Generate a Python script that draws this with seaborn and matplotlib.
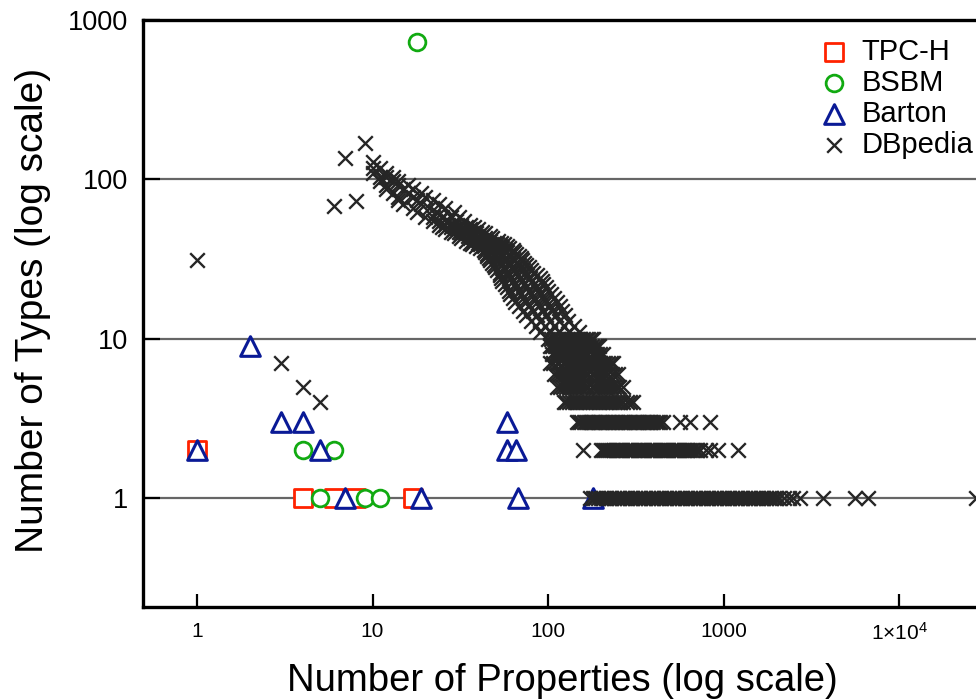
import matplotlib
matplotlib.use("Agg")
import matplotlib.pyplot as plt
from matplotlib.ticker import NullLocator
import pandas as pd
import seaborn as sns

# ---- data: number of types having a given number of properties ----
tpch_x = [1, 4, 6, 8, 17]
tpch_y = [2, 1, 1, 1, 1]

bsbm_x = [18, 4, 6, 5, 9, 11]
bsbm_y = [730, 2, 2, 1, 1, 1]

barton_x = [1, 2, 3, 4, 5, 7, 19, 58, 58, 66, 67, 180]
barton_y = [2, 9, 3, 3, 2, 1, 1, 3, 2, 2, 1, 1]

# DBpedia: isolated types with few properties
dbp_sparse_x = [1, 3, 4, 5, 6, 7, 8, 9, 10]
dbp_sparse_y = [31, 7, 5, 4, 68, 136, 73, 170, 128]

# DBpedia: main curve, type counts above 10 and the property counts seen for each
dbp_curve_types = [118, 110, 103, 97, 92, 87, 82, 78, 74, 70, 66, 62,
                   58, 55, 52, 50, 49, 47, 46, 44, 43, 41, 40, 39, 38, 37,
                   36, 35, 34, 33, 32, 31, 30, 29, 28, 27, 26, 25, 24, 23,
                   22, 21, 20, 19, 18, 17, 16, 15, 14, 13, 12, 11]
dbp_curve_props = [
    [10, 11], [10, 12], [11, 12, 13], [11, 13, 14], [12, 14, 16],
    [12, 15, 17], [13, 16, 19], [14, 17, 20], [14, 18, 22], [15, 19, 24],
    [17, 21, 26], [18, 23, 29],
    [20, 22, 25, 28, 31], [22, 24, 27, 30, 33], [24, 26, 29, 32, 36],
    [25, 28, 31, 34, 38],
    [26, 29, 32, 36, 40], [28, 31, 34, 38, 42], [29, 32, 35, 39, 44],
    [31, 35, 38, 42, 47], [32, 36, 40, 44, 48], [34, 38, 42, 47, 52],
    [36, 40, 44, 49, 54], [37, 41, 46, 51, 56], [39, 43, 48, 53, 58],
    [41, 45, 50, 55, 60], [43, 47, 52, 57, 63], [44, 48, 53, 58, 64],
    [45, 49, 54, 60, 66], [45, 50, 55, 61, 68], [46, 51, 57, 63, 70],
    [47, 52, 58, 64, 71], [48, 53, 59, 66, 73], [49, 54, 60, 68, 75],
    [50, 56, 62, 70, 78], [51, 57, 64, 72, 80], [53, 59, 66, 74, 82],
    [53, 60, 67, 76, 86], [54, 61, 69, 79, 90], [55, 63, 71, 81, 92],
    [57, 65, 73, 83, 94], [58, 66, 75, 85, 97], [60, 68, 78, 88, 100],
    [61, 70, 80, 91, 104], [63, 72, 83, 95, 108], [65, 75, 86, 98, 113],
    [68, 78, 89, 102, 117], [72, 82, 93, 106, 120], [75, 86, 98, 111, 125],
    [80, 90, 102, 115, 130], [85, 96, 108, 123, 140], [90, 102, 115, 131, 150],
]

# DBpedia: low type counts (1..10), property counts per row
dbp_band_types = [10, 9, 8, 7, 6, 5, 4, 3, 2, 1]
dbp_band_props = [
    [100, 104, 108, 112, 116, 121, 125, 130, 135, 141, 146, 152, 158, 164,
     170, 175, 180],
    [102, 106, 110, 114, 118, 123, 127, 132, 137, 143, 148, 154, 160, 166,
     172, 179, 185, 190, 195],
    [105, 109, 113, 117, 122, 126, 131, 136, 141, 147, 152, 158, 164, 170,
     177, 184, 190, 197, 205],
    [103, 107, 112, 116, 121, 125, 130, 135, 140, 146, 151, 157, 163, 170,
     176, 183, 190, 197, 205, 212, 220, 228, 235],
    [108, 112, 117, 121, 126, 131, 136, 141, 147, 152, 158, 164, 170, 177,
     183, 190, 197, 205, 212, 221, 230, 240, 250],
    [113, 117, 122, 126, 131, 136, 141, 147, 152, 158, 164, 170, 177, 183,
     190, 197, 205, 212, 220, 229, 238, 246, 255, 267],
    [123, 127, 132, 137, 142, 147, 153, 159, 165, 171, 178, 185, 192, 199,
     207, 215, 223, 231, 240, 249, 258, 269, 280, 292, 305],
    [146, 150, 155, 160, 165, 170, 175, 180, 186, 192, 198, 204, 210, 216,
     223, 230, 237, 244, 252, 260, 268, 276, 285, 294, 303, 312, 322, 332,
     342, 353, 364, 375, 387, 399, 411, 423, 435, 450, 565, 646, 838],
    [158, 200, 205, 211, 217, 223, 229, 236, 243, 250, 257, 265, 273, 281,
     289, 297, 306, 315, 324, 334, 343, 353, 364, 374, 385, 396, 408, 420,
     432, 445, 458, 471, 485, 499, 513, 528, 544, 560, 576, 593, 610, 628,
     646, 665, 685, 705, 730, 790, 840, 930, 1210],
    [174, 180, 186, 193, 200, 207, 214, 222, 229, 237, 246, 254, 263, 272,
     282, 292, 302, 313, 324, 335, 347, 359, 371, 384, 398, 412, 426, 441,
     456, 472, 489, 506, 524, 542, 561, 581, 601, 622, 644, 666, 690, 714,
     739, 765, 791, 819, 848, 877, 908, 940, 973, 1007, 1042, 1078, 1116,
     1155, 1196, 1237, 1281, 1325, 1372, 1420, 1470, 1521, 1574, 1629,
     1686, 1745, 1806, 1870, 1935, 2003, 2073, 2200, 2350, 2500, 2730,
     3700, 5600, 6700, 27500],
]

x_ticks = [1, 10, 100, 1000, 10000]
x_tick_labels = ["1", "10", "100", "1000", r"$\mathregular{1{\times}10^{4}}$"]
y_ticks = [1, 10, 100, 1000]
y_tick_labels = ["1", "10", "100", "1000"]

# ---- tables ----
rows = list(zip(dbp_sparse_x, dbp_sparse_y))
for t, props in zip(dbp_curve_types, dbp_curve_props):
    rows += [(p, t) for p in props]
for t, props in zip(dbp_band_types, dbp_band_props):
    rows += [(p, t) for p in props]
dbpedia = pd.DataFrame(rows, columns=["properties", "types"])
tpch = pd.DataFrame({"properties": tpch_x, "types": tpch_y})
bsbm = pd.DataFrame({"properties": bsbm_x, "types": bsbm_y})
barton = pd.DataFrame({"properties": barton_x, "types": barton_y})

# ---- style ----
sns.set_style("white")
plt.rcParams["font.family"] = ["Liberation Sans", "DejaVu Sans"]
plt.rcParams["text.color"] = "black"
plt.rcParams["axes.labelcolor"] = "black"
plt.rcParams["mathtext.fontset"] = "custom"
plt.rcParams["mathtext.rm"] = "Liberation Sans"
plt.rcParams["mathtext.it"] = "Liberation Sans:italic"
plt.rcParams["mathtext.bf"] = "Liberation Sans:bold"

fig = plt.figure(figsize=(9.76, 7.0), dpi=100)
ax = fig.add_axes([143 / 976, 93 / 700, 833 / 976, 587 / 700])
ax.set_xscale("log")
ax.set_yscale("log")

common = dict(x="properties", y="types", ax=ax, legend=False)
sns.scatterplot(data=tpch, marker="s", s=150, facecolor="white",
                edgecolor="#ff2200", linewidth=2.0, label="TPC-H", zorder=3, **common)
sns.scatterplot(data=bsbm, marker="o", s=145, facecolor="white",
                edgecolor="#11aa11", linewidth=2.0, label="BSBM", zorder=4, **common)
sns.scatterplot(data=barton, marker="^", s=200, facecolor="white",
                edgecolor="#0a1a96", linewidth=2.2, label="Barton", zorder=5, **common)
sns.scatterplot(data=dbpedia, marker="x", s=110, color="#262626",
                linewidth=1.7, label="DBpedia", zorder=6, **common)

ax.set_xlim(0.492, 27460)
ax.set_ylim(0.207, 1000)
ax.set_xticks(x_ticks)
ax.set_xticklabels(x_tick_labels)
ax.set_yticks(y_ticks)
ax.set_yticklabels(y_tick_labels)
ax.xaxis.set_minor_locator(NullLocator())
ax.yaxis.set_minor_locator(NullLocator())
ax.tick_params(axis="x", direction="in", length=9.5, width=1.6, labelsize=15,
               pad=11, top=False, bottom=True, colors="black")
ax.tick_params(axis="y", direction="in", length=12, width=1.6, labelsize=19.5,
               pad=11, left=True, right=False, colors="black")

ax.set_axisbelow(True)
ax.yaxis.grid(True, color="#666666", linewidth=1.6)
ax.xaxis.grid(False)

for side in ["left", "bottom", "top"]:
    ax.spines[side].set_visible(True)
    ax.spines[side].set_color("black")
    ax.spines[side].set_linewidth(2.4)
ax.spines["right"].set_visible(False)

ax.set_xlabel("Number of Properties (log scale)", fontsize=27.5, color="black")
ax.set_ylabel("Number of Types (log scale)", fontsize=28, color="black")
ax.xaxis.set_label_coords(0.504, -0.096)
ax.yaxis.set_label_coords(-0.111, 0.506)

leg = ax.legend(loc="upper left", bbox_to_anchor=(819 / 976, 1 - 38 / 700),
                bbox_transform=fig.transFigure, frameon=False, fontsize=21,
                handlelength=1.0, handletextpad=0.45, labelspacing=0.1,
                borderpad=0, borderaxespad=0, scatterpoints=1)
for txt in leg.get_texts():
    txt.set_color("black")

fig.savefig("out.png", dpi=100)
